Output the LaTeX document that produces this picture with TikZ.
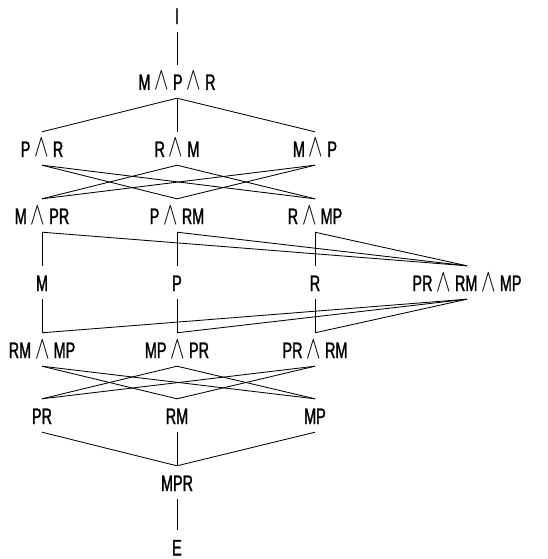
\documentclass[tikz,border=0pt]{standalone}
\usepackage{fontspec}
\setmainfont{Liberation Sans}[FakeStretch=0.64,FakeBold=1.3]
\newcommand\wg{\scalebox{1.05}[1.55]{$\wedge$}}
\begin{document}
\begin{tikzpicture}[x=1pt,y=-1pt,
  lbl/.style={inner sep=0pt, text height=25pt, text depth=8pt, anchor=base,
    font=\fontsize{22.5}{22.5}\selectfont},
  edge/.style={line width=0.85pt, black}]
\useasboundingbox (0,0) rectangle (547,559);
% top and the meet of all three
\node[lbl] (top) at (177,24) {I};
\node[lbl] (mpr3) at (177,90) {M \wg{} P \wg{} R};
% pairwise meets
\node[lbl] (pr) at (42,157) {P \wg{} R};
\node[lbl] (rm) at (177,157) {R \wg{} M};
\node[lbl] (mp) at (315,157) {M \wg{} P};
% mixed meets
\node[lbl] (mXpr) at (42,224) {M \wg{} PR};
\node[lbl] (pXrm) at (177,224) {P \wg{} RM};
\node[lbl] (rXmp) at (315,224) {R \wg{} MP};
% atoms
\node[lbl] (m) at (42,291) {M};
\node[lbl] (p) at (177,291) {P};
\node[lbl] (r) at (315,291) {R};
\node[lbl] (all) at (467,291) {PR \wg{} RM \wg{} MP};
% meets of products
\node[lbl] (rmXmp) at (42,358) {RM \wg{} MP};
\node[lbl] (mpXpr) at (177,358) {MP \wg{} PR};
\node[lbl] (prXrm) at (315,358) {PR \wg{} RM};
% products
\node[lbl] (PR) at (42,424) {PR};
\node[lbl] (RM) at (177,424) {RM};
\node[lbl] (MP) at (315,424) {MP};
\node[lbl] (MPR) at (177,491) {MPR};
\node[lbl] (bot) at (177,555.5) {E};

% edges
\draw[edge] (top.south) -- (mpr3.north);
\foreach \n in {pr,rm,mp} \draw[edge] (mpr3.south) -- (\n.north);
\draw[edge] (pr.south) -- (pXrm.north);
\draw[edge] (pr.south) -- (rXmp.north);
\draw[edge] (rm.south) -- (mXpr.north);
\draw[edge] (rm.south) -- (rXmp.north);
\draw[edge] (mp.south) -- (mXpr.north);
\draw[edge] (mp.south) -- (pXrm.north);
\draw[edge] (mXpr.south) -- (m.north);
\draw[edge] (pXrm.south) -- (p.north);
\draw[edge] (rXmp.south) -- (r.north);
\foreach \n in {mXpr,pXrm,rXmp} \draw[edge] (\n.south) -- (all.north);
\draw[edge] (m.south) -- (rmXmp.north);
\draw[edge] (p.south) -- (mpXpr.north);
\draw[edge] (r.south) -- (prXrm.north);
\foreach \n in {rmXmp,mpXpr,prXrm} \draw[edge] (\n.north) -- (all.south);
\draw[edge] (rmXmp.south) -- (RM.north);
\draw[edge] (rmXmp.south) -- (MP.north);
\draw[edge] (mpXpr.south) -- (PR.north);
\draw[edge] (mpXpr.south) -- (MP.north);
\draw[edge] (prXrm.south) -- (PR.north);
\draw[edge] (prXrm.south) -- (RM.north);
\foreach \n in {PR,RM,MP} \draw[edge] (\n.south) -- (MPR.north);
\draw[edge] (MPR.south) -- (bot.north);
\end{tikzpicture}
\end{document}
